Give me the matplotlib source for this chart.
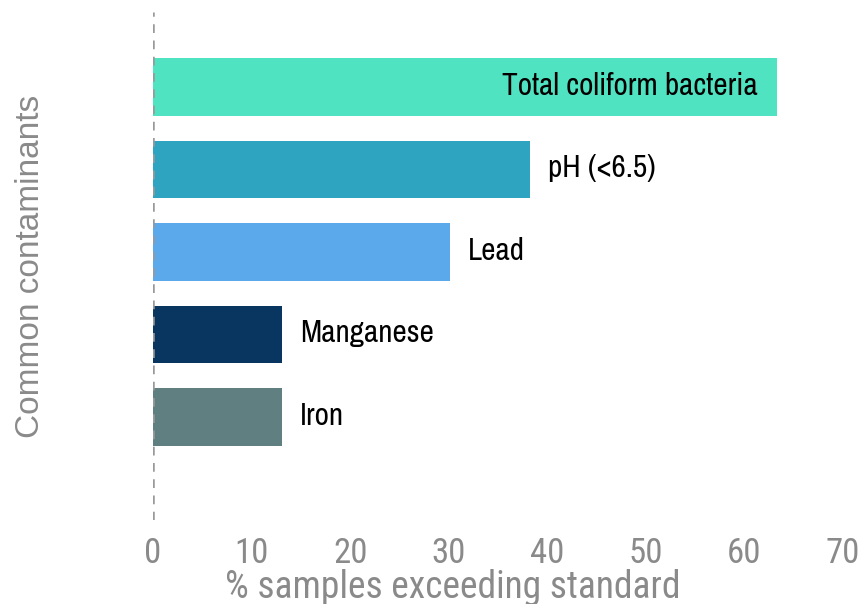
import matplotlib.pyplot as plt
import numpy as np

# data
contaminants = ['Total coliform bacteria', 'pH (<6.5)', 'Lead', 'Manganese', 'Iron']
pct_exceeding = [63.3, 38.2, 30.1, 13.1, 13.1]
bar_colors = ['#50E3C2', '#2EA4C0', '#5BA8EB', '#083660', '#607F80']
x_ticks = [0, 10, 20, 30, 40, 50, 60, 70]

label_font = ['Archivo Narrow', 'DejaVu Sans']
axis_font = ['Roboto Condensed', 'DejaVu Sans']
plt.rcParams['font.family'] = ['Liberation Sans', 'DejaVu Sans']

fig = plt.figure(figsize=(8.65, 6.04), dpi=100)
ax = fig.add_axes([0.1769, 0.139, 0.7977, 0.841])

y = np.arange(len(contaminants))
ax.barh(y, pct_exceeding, height=0.7, color=bar_colors, zorder=2)

# labels: first one inside the bar, rest outside
for i, (name, val) in enumerate(zip(contaminants, pct_exceeding)):
    if i == 0:
        ax.annotate(name, (val, i), xytext=(-14, 1), textcoords='offset points',
                    ha='right', va='center', fontsize=22.5, family=label_font, color='black')
    else:
        ax.annotate(name, (val, i), xytext=(13, 1), textcoords='offset points',
                    ha='left', va='center', fontsize=22.5, family=label_font, color='black')

ax.axvline(0, color='#999999', linestyle=(0, (3.5, 3)), linewidth=1.8, zorder=3)

ax.set_xlim(0, 70)
ax.set_ylim(len(contaminants) - 1 + 1.25, -0.91)
ax.set_xticks(x_ticks)
ax.set_xticklabels([str(t) for t in x_ticks], family=axis_font)
ax.set_yticks([])
ax.tick_params(axis='x', length=0, labelsize=25, labelcolor='#8a8a8a', pad=12)
for s in ax.spines.values():
    s.set_visible(False)

ax.set_xlabel('% samples exceeding standard', fontsize=27, color='#8a8a8a',
              family=axis_font, va='top')
ax.xaxis.set_label_coords(0.435, -0.096)
ax.set_ylabel('Common contaminants', fontsize=24, color='#8a8a8a')
ax.yaxis.set_label_coords(-0.155, 0.5)

fig.savefig('out.png', dpi=100)
